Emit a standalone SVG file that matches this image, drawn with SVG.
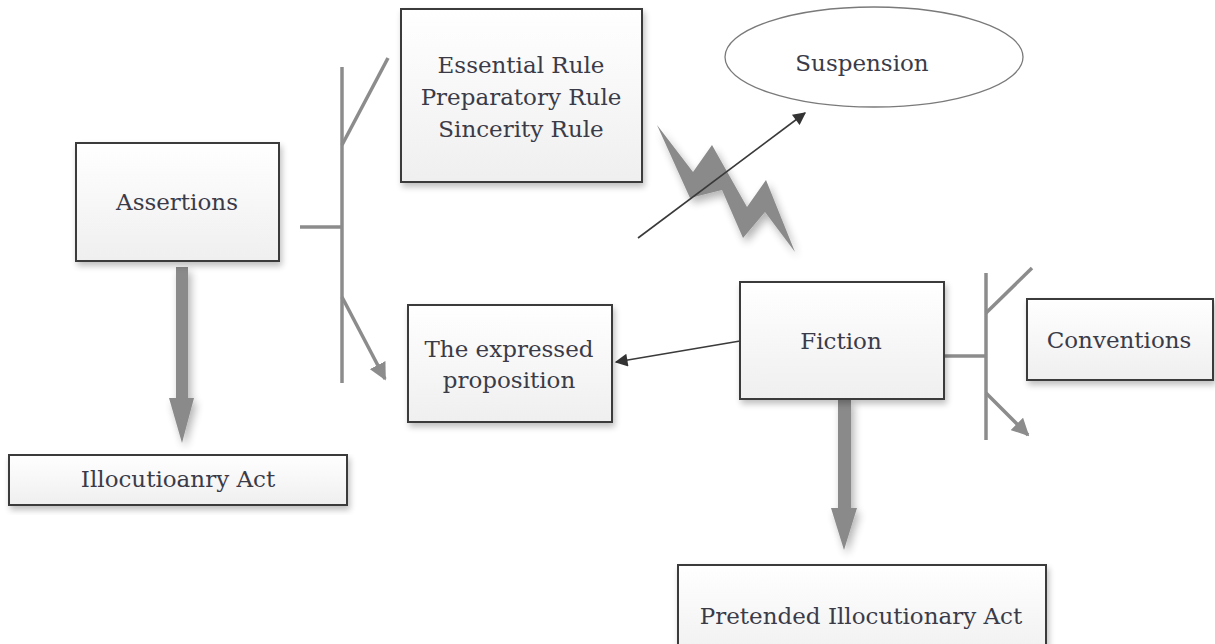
<svg xmlns="http://www.w3.org/2000/svg" width="1215" height="644" viewBox="0 0 1215 644">
  <style>
    .box { fill: url(#boxFill); stroke: #3a3a3a; stroke-width: 2; filter: url(#shadow); }
    .label { font-family: "DejaVu Serif", "Liberation Serif", serif; font-size: 23px; fill: #3b3b48; text-anchor: middle; }
    .bracket { stroke: #8c8c8c; stroke-width: 3.5; fill: none; stroke-linecap: butt; }
    .thin { stroke: #3a3a3a; stroke-width: 1.6; fill: none; }
    .fat { fill: #8a8a8a; filter: url(#softShadow); }
  </style>
  <defs>
    <linearGradient id="boxFill" x1="0" y1="0" x2="0" y2="1">
      <stop offset="0" stop-color="#ffffff"/>
      <stop offset="1" stop-color="#efefef"/>
    </linearGradient>
    <filter id="shadow" x="-10%" y="-10%" width="125%" height="130%">
      <feGaussianBlur in="SourceAlpha" stdDeviation="3"/>
      <feOffset dx="2" dy="4" result="b"/>
      <feComponentTransfer><feFuncA type="linear" slope="0.25"/></feComponentTransfer>
      <feMerge><feMergeNode/><feMergeNode in="SourceGraphic"/></feMerge>
    </filter>
    <filter id="softShadow" x="-30%" y="-30%" width="170%" height="170%">
      <feGaussianBlur in="SourceAlpha" stdDeviation="4"/>
      <feOffset dx="3" dy="5" result="b"/>
      <feComponentTransfer><feFuncA type="linear" slope="0.3"/></feComponentTransfer>
      <feMerge><feMergeNode/><feMergeNode in="SourceGraphic"/></feMerge>
    </filter>
    <marker id="grayHead" viewBox="0 0 10 10" refX="9" refY="5" markerWidth="5" markerHeight="5" orient="auto" markerUnits="strokeWidth">
      <path d="M0,0 L10,5 L0,10 z" fill="#8c8c8c"/>
    </marker>
    <marker id="darkHead" viewBox="0 0 10 10" refX="9" refY="5" markerWidth="9" markerHeight="8" orient="auto" markerUnits="strokeWidth">
      <path d="M0,0 L10,5 L0,10 z" fill="#333333"/>
    </marker>
  </defs>

  <!-- connectors -->
  <g id="connectors">
    <!-- bracket beside Assertions -->
    <line class="bracket" x1="342" y1="67" x2="342" y2="383"/>
    <line class="bracket" x1="342" y1="145" x2="388" y2="58"/>
    <line class="bracket" x1="300" y1="227" x2="342" y2="227"/>
    <line class="bracket" x1="342" y1="297" x2="385" y2="379" marker-end="url(#grayHead)"/>
    <!-- bracket beside Fiction -->
    <line class="bracket" x1="986" y1="273" x2="986" y2="440"/>
    <line class="bracket" x1="986" y1="313" x2="1032" y2="268"/>
    <line class="bracket" x1="944" y1="356" x2="986" y2="356"/>
    <line class="bracket" x1="986" y1="393" x2="1028" y2="435" marker-end="url(#grayHead)"/>
    <!-- heavy downward arrows -->
    <path class="fat" d="M176,267 H188 V398 H194 L182,443 L169,398 H176 Z"/>
    <path class="fat" d="M838,399 H851 V508 H857 L844,550 L831,508 H838 Z"/>
    <!-- lightning bolt -->
    <polygon class="fat" points="657,125 693,172 712,145 747,207 766,180 795,252 765,212 743,238 722,190 690,198"/>
    <!-- thin arrows -->
    <line class="thin" x1="638" y1="238" x2="805" y2="113" marker-end="url(#darkHead)"/>
    <line class="thin" x1="740" y1="341" x2="616" y2="362" marker-end="url(#darkHead)"/>
  </g>

  <g id="node-rules">
    <rect class="box" x="401" y="9" width="241" height="173"/>
    <text class="label" x="521" y="73">Essential Rule</text>
    <text class="label" x="521" y="105">Preparatory Rule</text>
    <text class="label" x="521" y="137">Sincerity Rule</text>
  </g>

  <g id="node-suspension">
    <ellipse cx="874" cy="57" rx="149" ry="50" fill="#ffffff" stroke="#7a7a7a" stroke-width="1.3"/>
    <text class="label" x="862" y="71">Suspension</text>
  </g>

  <g id="node-assertions">
    <rect class="box" x="76" y="143" width="203" height="118"/>
    <text class="label" x="177" y="210">Assertions</text>
  </g>

  <g id="node-illocutionary">
    <rect class="box" x="9" y="455" width="338" height="50"/>
    <text class="label" x="178" y="487">Illocutioanry Act</text>
  </g>

  <g id="node-proposition">
    <rect class="box" x="408" y="305" width="204" height="117"/>
    <text class="label" x="509" y="357">The expressed</text>
    <text class="label" x="509" y="388">proposition</text>
  </g>

  <g id="node-fiction">
    <rect class="box" x="740" y="282" width="204" height="117"/>
    <text class="label" x="841" y="349">Fiction</text>
  </g>

  <g id="node-conventions">
    <rect class="box" x="1027" y="299" width="186" height="81"/>
    <text class="label" x="1119" y="348">Conventions</text>
  </g>

  <g id="node-pretended">
    <rect class="box" x="678" y="565" width="368" height="100"/>
    <text class="label" x="861" y="624">Pretended Illocutionary Act</text>
  </g>
</svg>
